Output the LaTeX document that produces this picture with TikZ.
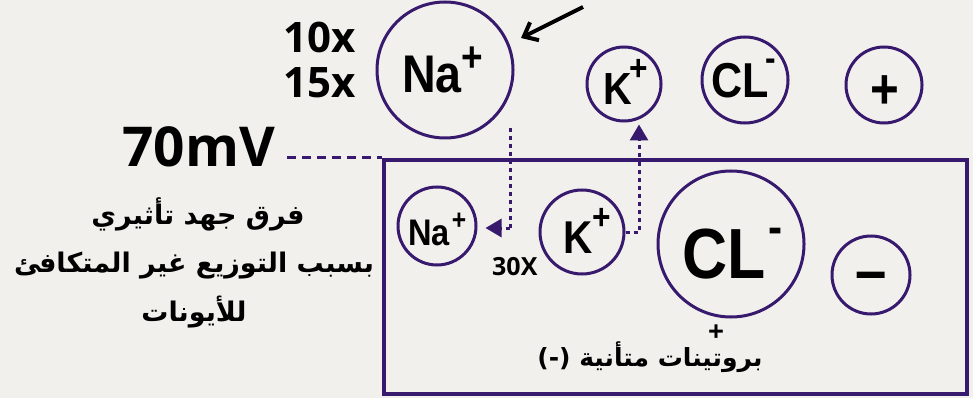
\documentclass[tikz,border=0pt]{standalone}
\usepackage{fontspec}
\usetikzlibrary{arrows.meta}
\TeXXeTstate=1
\newfontfamily\ionfont[FakeStretch=0.88]{Liberation Sans}
\newfontfamily\numfont{Open Sans}
\newfontfamily\arabicfont[Script=Arabic]{DejaVu Sans}
\definecolor{bgc}{RGB}{242,240,237}
\definecolor{ink}{RGB}{55,25,110}
\newcommand\fs[1]{\fontsize{#1}{#1}\selectfont}
\newcommand\supsign[4]{\kern#1\raisebox{#2}{\fs{#3}#4}}
\tikzset{
  ioncirc/.style={draw=ink, line width=3pt, circle, inner sep=0pt, minimum size=#1},
  iontext/.style={anchor=base west, inner sep=0pt, font=\ionfont\bfseries},
  numtext/.style={anchor=base west, inner sep=0pt, font=\numfont\bfseries},
  artext/.style={inner sep=0pt, font=\arabicfont\bfseries},
  dotline/.style={draw=ink, line width=3pt, dash pattern=on 4pt off 4pt},
  dashline/.style={draw=ink, line width=3pt, dash pattern=on 9pt off 6pt},
  triarrow/.style={-{Triangle[length=16pt,width=18pt]}},
}
\begin{document}
\begin{tikzpicture}[x=1pt,y=-1pt]
\fill[bgc] (0,0) rectangle (973,398);
\useasboundingbox (0,0) rectangle (973,398);

% membrane box
\node[draw=ink, line width=4pt, minimum width=583pt, minimum height=234pt, anchor=north west, inner sep=0pt] (cell) at (382,158) {};

% circles
\node[ioncirc=136pt] (naBig) at (445,70) {};
\node[ioncirc=74pt] (kTop) at (624,84) {};
\node[ioncirc=86pt] (clTop) at (745,80) {};
\node[ioncirc=76pt] (plusC) at (884,85) {};
\node[ioncirc=78pt] (naSm) at (437,226) {};
\node[ioncirc=84pt] (kIn) at (582,232) {};
\node[ioncirc=146pt] (clBig) at (731,244) {};
\node[ioncirc=78pt] (minusC) at (871,275) {};

% ion labels
\node[iontext] (naBigT) at (402,93) {\fs{53}Na\supsign{0pt}{21pt}{42}{+}};
\node[iontext] (kTopT) at (603,105) {\fs{45}K\supsign{-2pt}{24pt}{36}{+}};
\node[iontext] (clTopT) at (711,98) {\fs{49}CL\supsign{-3pt}{27pt}{36}{-}};
\node[iontext, anchor=base] (plusT) at (885,109) {\fs{56}+};
\node[iontext] (naSmT) at (408,245) {\fs{37}Na\supsign{2pt}{16pt}{28}{+}};
\node[iontext] (kInT) at (563,253) {\fs{46}K\supsign{0pt}{24pt}{36}{+}};
\node[iontext] (clBigT) at (682,278) {\fs{71}CL\supsign{3pt}{35pt}{48}{-}};
\node[iontext, anchor=base] (minusT) at (871,292) {\fs{64}–};

% numbers
\node[numtext] (t10) at (283,53) {\fs{42}10x};
\node[numtext] (t15) at (283,98) {\fs{42}15x};
\node[numtext] (mv) at (122,166) {\fs{55}70mV};
\node[numtext] (t30) at (492,275) {\fs{25}30X};
\node[numtext, anchor=base] (plusSm) at (716,341) {\fs{28}+};

% Arabic texts
\node[artext] (ar1) at (198,214) {\fs{27}\beginR فرق جهد تأثيري\endR};
\node[artext] (ar2) at (194,266) {\fs{27}\beginR بسبب التوزيع غير المتكافئ\endR};
\node[artext] (ar3) at (194,312) {\fs{27}\beginR للأيونات\endR};
\node[artext] (ar4) at (650,357) {\fs{25}\beginR بروتينات متأنية \beginL(-)\endL\endR};

% connectors
\coordinate (dstart) at (287,158);
\draw[dashline] (dstart) -- (cell.north west);

\coordinate (naDrop) at (510,128);
\coordinate (naTurn) at (510,228);
\draw[dotline] (naDrop) -- (naTurn);
\draw[dotline, triarrow, shorten >=8pt] (naTurn) -- (naSm.east |- naTurn);

\coordinate (kCol) at (639,0);
\draw[dotline, triarrow, shorten >=2pt] (kIn.east) -- (kIn.east -| kCol) -- (kCol |- kTop.south);

\coordinate (arrS) at (583,7);
\coordinate (arrE) at (521,38);
\draw[line width=4pt, -{Straight Barb[length=12pt,width=20pt]}] (arrS) -- (arrE);
\end{tikzpicture}
\end{document}
